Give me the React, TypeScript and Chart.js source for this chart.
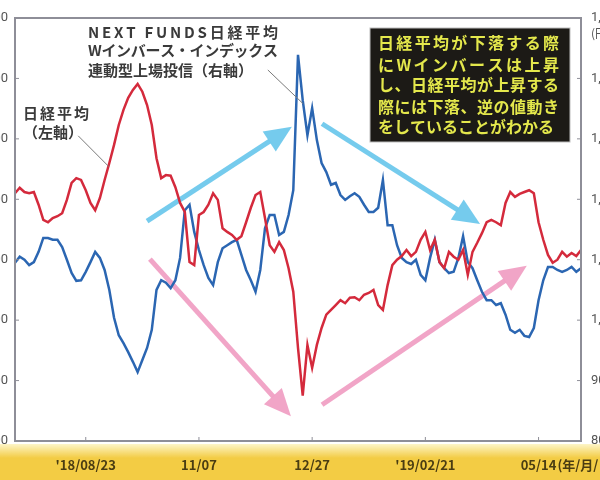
import React, { useEffect, useRef } from 'react';
import { Chart, registerables } from 'chart.js';

Chart.register(...registerables);

// ---- data ----
// Nikkei 225 (left axis, yen), one value per sampled trading position
const nikkei = [
  22100, 22190, 22120, 22100, 22120, 21910, 21660, 21620, 21690, 21720,
  21770, 21990, 22270, 22350, 22320, 22150, 21940, 21820, 22020, 22320,
  22600, 22900, 23230, 23480, 23680, 23810, 23910, 23780, 23560, 23230,
  22680, 22350, 22400, 22390, 22200, 21940, 21790, 20960, 20910, 21740,
  21790, 21910, 22100, 21990, 21520, 21460, 21410, 21330, 21390, 21620,
  21860, 22070, 22120, 21690, 21240, 21130, 21290, 21160, 20860, 20470,
  19540, 18750, 19590, 19210, 19590, 19870, 20090, 20170, 20250, 20330,
  20280, 20370, 20380, 20330, 20420, 20450, 20500, 20250, 20170, 20580,
  20910, 21000, 21060, 21160, 21060, 21130, 21330, 21460, 21160, 21330,
  20960, 20860, 21130, 21050, 21000, 21160, 20750, 21130, 21280, 21440,
  21620, 21660, 21620, 21570, 21940, 22120, 22040, 22090, 22120, 22150,
  22100, 21620, 21330, 21080, 20950, 21000, 21130, 21050, 21110, 21060,
  21160,
];
// NEXT FUNDS Nikkei 225 Double Inverse ETF (right axis, yen)
const inverse = [
  1095, 1105, 1100, 1091, 1096, 1113, 1136, 1136, 1133, 1133,
  1121, 1100, 1078, 1065, 1066, 1080, 1096, 1113, 1103, 1083,
  1050, 1004, 975, 962, 947, 931, 914, 934, 954, 984,
  1050, 1066, 1062, 1053, 1066, 1103, 1182, 1191, 1146, 1116,
  1091, 1070, 1058, 1096, 1119, 1124, 1129, 1133, 1108, 1083,
  1066, 1047, 1083, 1152, 1174, 1174, 1141, 1146, 1174, 1215,
  1439, 1364, 1306, 1351, 1298, 1260, 1245, 1224, 1227, 1207,
  1199, 1205, 1210, 1204, 1191, 1179, 1179, 1186, 1232, 1157,
  1157, 1124, 1103, 1096, 1093, 1100, 1075, 1066, 1103, 1133,
  1096, 1086, 1078, 1080, 1103, 1139, 1096, 1086, 1066, 1047,
  1033, 1033, 1025, 1028, 1009, 984, 979, 984, 974, 972,
  987, 1033, 1066, 1088, 1088, 1083, 1080, 1083, 1088, 1080,
  1086,
];
const categories = nikkei.map((_, i) => String(i));

const xTickIndex = [15, 39, 63, 87, 111];
const xTickLabels = ["'18/08/23", '11/07', '12/27', "'19/02/21", '05/14'];
const xUnitLabel = '(年/月/日)';

const leftMin = 18000;
const leftMax = 25000;
const leftStep = 1000;
const rightMin = 800;
const rightMax = 1500;
const rightStep = 100;
const rightUnit = '(円)';

const seriesNames = ['日経平均（左軸）', 'NEXT FUNDS日経平均Wインバース・インデックス連動型上場投信（右軸）'];
const labelEtf = ['NEXT FUNDS日経平均', 'Wインバース・インデックス', '連動型上場投信（右軸）'];
const labelNikkei = ['日経平均', '（左軸）'];
const noteLines = [
  '日経平均が下落する際',
  'にWインバースは上昇',
  'し、日経平均が上昇する',
  '際には下落、逆の値動き',
  'をしていることがわかる',
];

// arrows in data coordinates: [xIndex, nikkei-axis value] start -> tip
const cyanArrows = [
  [[28.0, 21640], [58.7, 23200]],
  [[65.1, 23250], [98.6, 21590]],
];
const pinkArrows = [
  [[28.6, 21010], [58.5, 18410]],
  [[65.1, 18600], [108.5, 20900]],
];
const leaders = [
  [[53.6, 24140], [61.1, 23580]],
  [[13.4, 23050], [19.9, 22540]],
];

const OFF_L = 45;
const OFF_R = 45;
const CJK = '"Noto Sans CJK JP", "Noto Sans", sans-serif';

function drawJust(ctx: CanvasRenderingContext2D, text: string, x: number, y: number, w?: number) {
  const chars = Array.from(text);
  if (!w) {
    ctx.fillText(text, x, y);
    return;
  }
  const widths = chars.map((c) => ctx.measureText(c).width);
  const total = widths.reduce((s, v) => s + v, 0);
  const gap = chars.length > 1 ? (w - total) / (chars.length - 1) : 0;
  let cx = x;
  chars.forEach((c, i) => {
    ctx.fillText(c, cx, y);
    cx += widths[i] + gap;
  });
}

function drawArrow(ctx: CanvasRenderingContext2D, x1: number, y1: number, x2: number, y2: number, color: string) {
  const ang = Math.atan2(y2 - y1, x2 - x1);
  const hl = 27;
  const hw = 12;
  const bx = x2 - hl * Math.cos(ang);
  const by = y2 - hl * Math.sin(ang);
  ctx.strokeStyle = color;
  ctx.lineWidth = 5;
  ctx.lineCap = 'butt';
  ctx.beginPath();
  ctx.moveTo(x1, y1);
  ctx.lineTo(bx + 1 * Math.cos(ang), by + 1 * Math.sin(ang));
  ctx.stroke();
  ctx.fillStyle = color;
  ctx.beginPath();
  ctx.moveTo(x2, y2);
  ctx.lineTo(bx + hw * Math.sin(ang), by - hw * Math.cos(ang));
  ctx.lineTo(bx - hw * Math.sin(ang), by + hw * Math.cos(ang));
  ctx.closePath();
  ctx.fill();
}

const decoPlugin = {
  id: 'deco',
  beforeDraw(chart: any) {
    const { ctx, chartArea: a, width, height } = chart;
    ctx.save();
    ctx.fillStyle = '#ffffff';
    ctx.fillRect(0, 0, width, height);
    const y0 = a.bottom + 3;
    const g = ctx.createLinearGradient(0, y0, 0, y0 + 14);
    g.addColorStop(0, '#fdf5c8');
    g.addColorStop(1, '#f3cc44');
    ctx.fillStyle = g;
    ctx.fillRect(0, y0, width, height - y0);
    ctx.restore();
  },
  beforeDatasetsDraw(chart: any) {
    const { ctx } = chart;
    const xs = chart.scales.x;
    const ys = chart.scales.y;
    ctx.save();
    const P = (p: number[]) => [xs.getPixelForValue(p[0]), ys.getPixelForValue(p[1])];
    cyanArrows.forEach(([s, e]) => {
      const [x1, y1] = P(s);
      const [x2, y2] = P(e);
      drawArrow(ctx, x1, y1, x2, y2, 'rgba(110,200,236,0.95)');
    });
    pinkArrows.forEach(([s, e]) => {
      const [x1, y1] = P(s);
      const [x2, y2] = P(e);
      drawArrow(ctx, x1, y1, x2, y2, 'rgba(240,160,196,0.95)');
    });
    ctx.restore();
  },
  afterDatasetsDraw(chart: any) {
    const { ctx, chartArea: a } = chart;
    const xs = chart.scales.x;
    const ys = chart.scales.y;
    const y1s = chart.scales.y1;
    ctx.save();
    // frame
    ctx.strokeStyle = '#8e8e98';
    ctx.lineWidth = 2;
    ctx.strokeRect(a.left, a.top, a.right - a.left, a.bottom - a.top);
    // tick marks
    ctx.lineWidth = 1;
    ys.ticks.forEach((t: any) => {
      const y = ys.getPixelForValue(t.value);
      ctx.beginPath();
      ctx.moveTo(a.left, y);
      ctx.lineTo(a.left + 4, y);
      ctx.stroke();
    });
    y1s.ticks.forEach((t: any) => {
      const y = y1s.getPixelForValue(t.value);
      ctx.beginPath();
      ctx.moveTo(a.right - 4, y);
      ctx.lineTo(a.right, y);
      ctx.stroke();
    });
    xTickIndex.forEach((idx) => {
      const x = xs.getPixelForValue(idx);
      ctx.beginPath();
      ctx.moveTo(x, a.bottom);
      ctx.lineTo(x, a.bottom - 4);
      ctx.stroke();
    });
    // leader lines
    ctx.strokeStyle = '#7a7a7a';
    ctx.lineWidth = 1;
    leaders.forEach(([s, e]) => {
      ctx.beginPath();
      ctx.moveTo(xs.getPixelForValue(s[0]), ys.getPixelForValue(s[1]));
      ctx.lineTo(xs.getPixelForValue(e[0]), ys.getPixelForValue(e[1]));
      ctx.stroke();
    });
    // x labels
    ctx.fillStyle = '#4a3d12';
    ctx.font = `bold 13px ${CJK}`;
    ctx.textBaseline = 'middle';
    const ly = a.bottom + 24;
    xTickIndex.forEach((idx, i) => {
      const x = xs.getPixelForValue(idx);
      ctx.textAlign = 'center';
      ctx.fillText(xTickLabels[i], x, ly);
      if (i === xTickIndex.length - 1) {
        const w = ctx.measureText(xTickLabels[i]).width;
        ctx.textAlign = 'left';
        ctx.fillText(xUnitLabel, x + w / 2 + 1, ly);
      }
    });
    // right unit
    ctx.fillStyle = '#555';
    ctx.font = `12px ${CJK}`;
    ctx.textAlign = 'left';
    ctx.fillText(rightUnit, a.right + 10, a.top + 15);

    // annotations (relative to chart area)
    ctx.translate(a.left, a.top);
    ctx.textAlign = 'left';
    ctx.textBaseline = 'middle';
    ctx.fillStyle = '#3a3a3a';
    ctx.font = `bold 15px ${CJK}`;
    drawJust(ctx, labelEtf[0], 73, 14, 190);
    drawJust(ctx, labelEtf[1], 73, 32, 190);
    drawJust(ctx, labelEtf[2], 73, 52);
    drawJust(ctx, labelNikkei[0], 8, 95, 66);
    drawJust(ctx, labelNikkei[1], 8, 114);

    // black note box
    ctx.fillStyle = '#1c1a16';
    ctx.fillRect(355, 10, 200, 114);
    ctx.strokeStyle = '#bdbdbd';
    ctx.lineWidth = 1;
    ctx.strokeRect(355, 10, 200, 114);
    ctx.fillStyle = '#e4e84c';
    ctx.font = `bold 16px ${CJK}`;
    const ny = [25, 47, 67, 89, 109];
    noteLines.forEach((t, i) => {
      drawJust(ctx, t, 363, ny[i], i < 4 ? 181 : undefined);
    });
    ctx.restore();
  },
};

export default function App() {
  const ref = useRef<HTMLCanvasElement | null>(null);
  useEffect(() => {
    if (!ref.current) return;
    const chart = new Chart(ref.current, {
      type: 'line',
      data: {
        labels: categories,
        datasets: [
          {
            label: seriesNames[0],
            data: nikkei,
            yAxisID: 'y',
            borderColor: '#d42a3c',
            borderWidth: 2.5,
            pointRadius: 0,
            tension: 0,
            fill: false,
          },
          {
            label: seriesNames[1],
            data: inverse,
            yAxisID: 'y1',
            borderColor: '#2b66b2',
            borderWidth: 2.5,
            pointRadius: 0,
            tension: 0,
            fill: false,
          },
        ],
      },
      options: {
        animation: false,
        responsive: false,
        layout: { padding: { left: 0, right: 0, top: 18, bottom: 39 } },
        plugins: { legend: { display: false }, tooltip: { enabled: false } },
        scales: {
          x: {
            type: 'category',
            display: false,
            offset: false,
          },
          y: {
            position: 'left',
            min: leftMin,
            max: leftMax,
            grid: { display: false, drawTicks: false },
            border: { display: false },
            ticks: {
              stepSize: leftStep,
              padding: 7,
              color: '#555',
              font: { size: 13, family: 'Roboto' },
              callback: (v: any) => Number(v).toLocaleString('en-US'),
            },
            afterFit: (s: any) => {
              s.width = 15 + OFF_L;
            },
          },
          y1: {
            position: 'right',
            min: rightMin,
            max: rightMax,
            grid: { display: false, drawTicks: false },
            border: { display: false },
            ticks: {
              stepSize: rightStep,
              padding: 10,
              color: '#555',
              font: { size: 13, family: 'Roboto' },
              callback: (v: any) => Number(v).toLocaleString('en-US'),
            },
            afterFit: (s: any) => {
              s.width = 19 + OFF_R;
            },
          },
        },
      },
      plugins: [decoPlugin],
    } as any);
    return () => chart.destroy();
  }, []);
  const W = 600 + OFF_L + OFF_R;
  return (
    <div style={{ position: 'absolute', left: 0, top: 0, width: 600, height: 480, overflow: 'hidden' }}>
      <canvas
        ref={ref}
        width={W}
        height={480}
        style={{ position: 'absolute', left: -OFF_L, top: 0, width: W, height: 480 }}
      />
    </div>
  );
}
